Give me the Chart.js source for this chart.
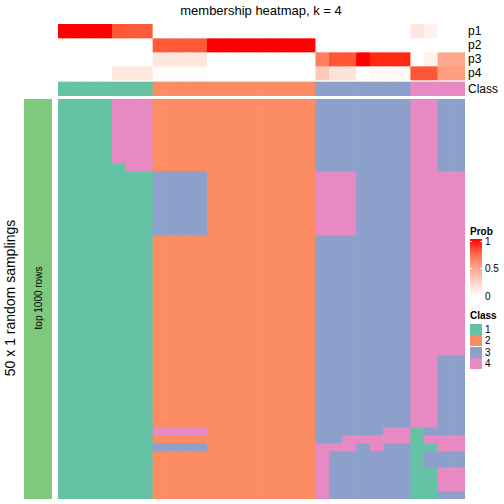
<!DOCTYPE html>
<html>
<head>
<meta charset="utf-8">
<script src="https://cdn.jsdelivr.net/npm/chart.js@4.4.1/dist/chart.umd.min.js"></script>
<style>
  html, body { margin: 0; padding: 0; background: #fff; }
  body { width: 504px; height: 504px; position: relative; overflow: hidden;
         font-family: "Liberation Sans", Arial, sans-serif; color: #000; }
  .abs { position: absolute; white-space: nowrap; }
  canvas { position: absolute; }
  .rot { transform: translate(-50%, -50%) rotate(-90deg); }
  .lab { font-size: 12px; line-height: 14px; }
  .leg { font-size: 10px; line-height: 10px; }
  .sw { position: absolute; width: 12px; height: 11px; }
</style>
</head>
<body>
<div class="abs" style="left:261px;top:3px;transform:translateX(-50%);font-size:13px;">membership heatmap, k = 4</div>

<canvas id="annoChart" width="407" height="72" style="left:58px;top:24px;"></canvas>
<canvas id="heatChart" width="407" height="400" style="left:58px;top:99px;"></canvas>

<div class="abs lab" style="left:468px;top:24px;">p1</div>
<div class="abs lab" style="left:468px;top:38px;">p2</div>
<div class="abs lab" style="left:468px;top:52px;">p3</div>
<div class="abs lab" style="left:468px;top:66px;">p4</div>
<div class="abs lab" style="left:468px;top:82px;">Class</div>

<div class="abs" style="left:24px;top:99px;width:28px;height:400px;background:#7FC97F;"></div>
<div class="abs rot" style="left:38px;top:298px;font-size:10px;">top 1000 rows</div>
<div class="abs rot" style="left:10px;top:298px;font-size:14px;">50 x 1 random samplings</div>

<div class="abs leg" style="left:470px;top:227px;font-weight:bold;">Prob</div>
<div class="abs" style="left:470px;top:239px;width:12px;height:58px;background:linear-gradient(to bottom,#FF0000,#FF6A4A 25%,#FFA58C 50%,#FFD5C8 75%,#FFFFFF);"></div>
<div class="abs" style="left:470px;top:241px;width:2px;height:1px;background:#fff;"></div>
<div class="abs" style="left:480px;top:241px;width:2px;height:1px;background:#fff;"></div>
<div class="abs" style="left:470px;top:268px;width:2px;height:1px;background:#fff;"></div>
<div class="abs" style="left:480px;top:268px;width:2px;height:1px;background:#fff;"></div>
<div class="abs leg" style="left:485px;top:237px;">1</div>
<div class="abs leg" style="left:485px;top:264px;">0.5</div>
<div class="abs leg" style="left:485px;top:292px;">0</div>

<div class="abs leg" style="left:470px;top:311px;font-weight:bold;">Class</div>
<div class="sw" style="left:470px;top:324px;background:#66C2A5;"></div>
<div class="sw" style="left:470px;top:335px;background:#FC8D62;"></div>
<div class="sw" style="left:470px;top:347px;background:#8DA0CB;"></div>
<div class="sw" style="left:470px;top:358px;background:#E78AC3;"></div>
<div class="abs leg" style="left:485px;top:325px;">1</div>
<div class="abs leg" style="left:485px;top:336px;">2</div>
<div class="abs leg" style="left:485px;top:348px;">3</div>
<div class="abs leg" style="left:485px;top:359px;">4</div>

<script>
// columns (samples) in display order
const sampleIds = Array.from({ length: 30 }, (_, i) => 'S' + (i + 1));

// membership probabilities per sample
const p1 = [1, 1, 1, 1, 0.82, 0.8, 0.8,
            0, 0, 0, 0, 0, 0, 0, 0, 0, 0, 0, 0,
            0, 0, 0, 0, 0, 0, 0,
            0.13, 0.07, 0, 0];
const p2 = [0, 0, 0, 0, 0, 0, 0,
            0.8, 0.8, 0.8, 0.8, 1, 1, 1, 1, 1, 1, 1, 1,
            0, 0, 0, 0, 0, 0, 0,
            0, 0, 0, 0];
const p3 = [0, 0, 0, 0, 0, 0, 0,
            0.13, 0.13, 0.13, 0.13, 0, 0, 0, 0, 0, 0, 0, 0,
            0.65, 0.82, 0.82, 1, 0.95, 0.95, 0.95,
            0, 0.07, 0.45, 0.45];
const p4 = [0, 0, 0, 0, 0.12, 0.12, 0.12,
            0.02, 0.02, 0.02, 0.02, 0, 0, 0, 0, 0, 0, 0, 0,
            0.28, 0.15, 0.15, 0, 0.03, 0.03, 0.03,
            0.82, 0.82, 0.5, 0.5];
const sampleClass = [1, 1, 1, 1, 1, 1, 1,
                     2, 2, 2, 2, 2, 2, 2, 2, 2, 2, 2, 2,
                     3, 3, 3, 3, 3, 3, 3,
                     4, 4, 4, 4];

// class of each sample in each of the 50 random samplings (one string per row)
const rowA = '1111 444 2222 22222222 333 3333 44 33';
const rowB = '1111 144 2222 22222222 333 3333 44 33';
const rowC = '1111 111 3333 22222222 444 3333 44 44';
const rowD = '1111 111 2222 22222222 333 3333 44 44';
const rowE = '1111 111 2222 22222222 333 3333 44 33';
const rowF = '1111 111 4444 22222222 333 3344 13 33';
const rowG = '1111 111 2222 22222222 334 4444 14 44';
const rowH = '1111 111 3333 22222222 444 3433 11 44';
const rowI = '1111 111 2222 22222222 433 3333 13 33';
const rowJ = '1111 111 2222 22222222 433 3333 11 44';
const rowK = '1111 111 2222 22222222 433 3333 11 33';
const samplingRows = [
  ...Array(8).fill(rowA), rowB,
  ...Array(8).fill(rowC),
  ...Array(15).fill(rowD),
  ...Array(9).fill(rowE),
  rowF, rowG, rowH,
  rowI, rowI,
  rowJ, rowJ, rowJ,
  rowK
];

const classColors = { 1: '#66C2A5', 2: '#FC8D62', 3: '#8DA0CB', 4: '#E78AC3' };

// white -> red in LAB space
function toLin(c) { c /= 255; return c <= 0.04045 ? c / 12.92 : Math.pow((c + 0.055) / 1.055, 2.4); }
function toSrgb(c) { c = Math.min(1, Math.max(0, c)); return Math.round(255 * (c <= 0.0031308 ? 12.92 * c : 1.055 * Math.pow(c, 1 / 2.4) - 0.055)); }
function rgbToLab(r, g, b) {
  const R = toLin(r), G = toLin(g), B = toLin(b);
  const X = (0.4124 * R + 0.3576 * G + 0.1805 * B) / 0.95047;
  const Y = (0.2126 * R + 0.7152 * G + 0.0722 * B);
  const Z = (0.0193 * R + 0.1192 * G + 0.9505 * B) / 1.08883;
  const f = t => t > 0.008856 ? Math.cbrt(t) : 7.787 * t + 16 / 116;
  return [116 * f(Y) - 16, 500 * (f(X) - f(Y)), 200 * (f(Y) - f(Z))];
}
function labToRgb(L, a, b) {
  const fy = (L + 16) / 116, fx = fy + a / 500, fz = fy - b / 200;
  const inv = t => t ** 3 > 0.008856 ? t ** 3 : (t - 16 / 116) / 7.787;
  const X = inv(fx) * 0.95047, Y = inv(fy), Z = inv(fz) * 1.08883;
  const R = 3.2406 * X - 1.5372 * Y - 0.4986 * Z;
  const G = -0.9689 * X + 1.8758 * Y + 0.0415 * Z;
  const B = 0.0557 * X - 0.2040 * Y + 1.0570 * Z;
  return `rgb(${toSrgb(R)},${toSrgb(G)},${toSrgb(B)})`;
}
const labWhite = rgbToLab(255, 255, 255);
const labRed = rgbToLab(255, 0, 0);
function probColor(v) {
  return labToRgb(
    labWhite[0] + (labRed[0] - labWhite[0]) * v,
    labWhite[1] + (labRed[1] - labWhite[1]) * v,
    labWhite[2] + (labRed[2] - labWhite[2]) * v
  );
}

const barDefaults = {
  categoryPercentage: 1,
  barPercentage: 1,
  borderWidth: 0,
};

const commonOptions = (yMax) => ({
  responsive: false,
  animation: false,
  devicePixelRatio: 1,
  layout: { padding: 0 },
  plugins: { legend: { display: false }, tooltip: { enabled: false }, title: { display: false } },
  scales: {
    x: { stacked: true, display: false, grid: { display: false } },
    y: { stacked: true, display: false, reverse: true, min: 0, max: yMax, grid: { display: false } },
  },
});

// top annotation: p1..p4, small gap, Class
const annoRows = [
  { label: 'p1', data: p1, color: probColor, h: 1 },
  { label: 'p2', data: p2, color: probColor, h: 1 },
  { label: 'p3', data: p3, color: probColor, h: 1 },
  { label: 'p4', data: p4, color: probColor, h: 1 },
  { label: 'gap', data: null, color: () => 'rgba(0,0,0,0)', h: 2 / 14 },
  { label: 'Class', data: sampleClass, color: c => classColors[c], h: 1 },
];

new Chart(document.getElementById('annoChart'), {
  type: 'bar',
  data: {
    labels: sampleIds,
    datasets: annoRows.map(r => ({
      ...barDefaults,
      label: r.label,
      data: sampleIds.map(() => r.h),
      backgroundColor: sampleIds.map((_, i) => r.data ? r.color(r.data[i]) : r.color()),
    })),
  },
  options: commonOptions(annoRows.reduce((s, r) => s + r.h, 0)),
});

// main heatmap: one stacked dataset per sampling row
new Chart(document.getElementById('heatChart'), {
  type: 'bar',
  data: {
    labels: sampleIds,
    datasets: samplingRows.map((row, r) => {
      const cls = row.replace(/ /g, '').split('');
      return {
        ...barDefaults,
        label: 'sampling ' + (r + 1),
        data: cls.map(() => 1),
        backgroundColor: cls.map(c => classColors[c]),
      };
    }),
  },
  options: commonOptions(samplingRows.length),
});
</script>
</body>
</html>
